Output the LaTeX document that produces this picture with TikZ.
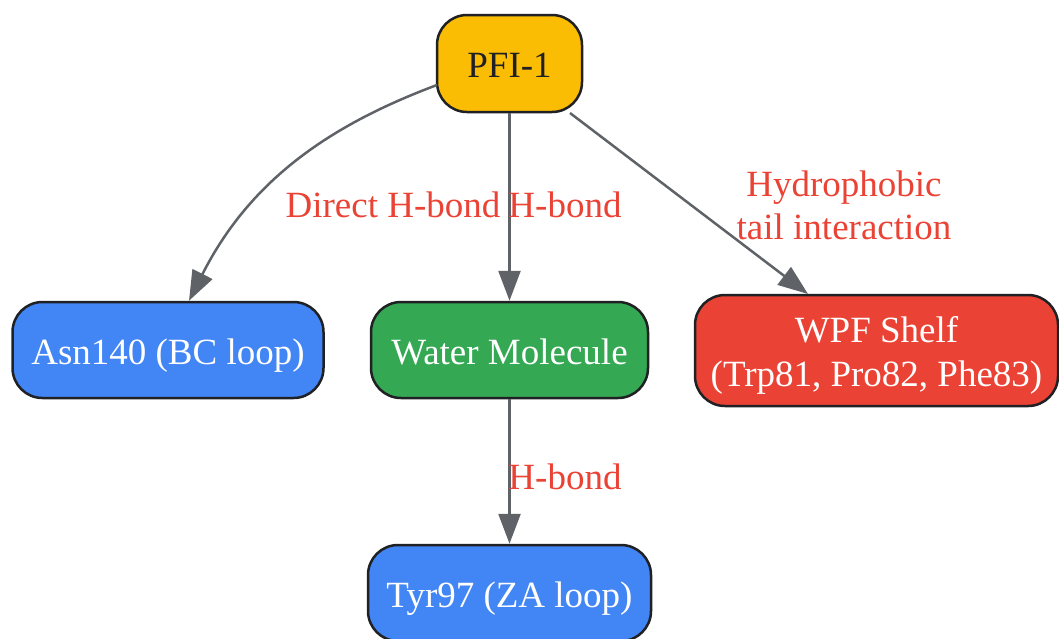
\documentclass[tikz,border=0pt]{standalone}
\usepackage{fontspec}
\setmainfont{Liberation Serif}
\usetikzlibrary{arrows.meta}
\definecolor{gyellow}{HTML}{FBBC04}
\definecolor{gblue}{HTML}{4285F4}
\definecolor{ggreen}{HTML}{34A853}
\definecolor{gred}{HTML}{EA4335}
\definecolor{gdark}{HTML}{202124}
\definecolor{ggray}{HTML}{5F6368}
\begin{document}
\begin{tikzpicture}[x=1pt,y=-1pt,
  box/.style={draw=gdark,line width=2.5pt,rounded corners=30pt,inner sep=0pt,align=center,
    font=\fontsize{37}{44}\selectfont,text=white},
  oneline/.style={text height=30pt,text depth=2pt},
  conn/.style={draw=ggray,line width=2.5pt,-{Triangle[length=30pt,width=22pt]}},
  lbl/.style={text=gred,font=\fontsize{37}{43}\selectfont,align=center,inner sep=0pt}]
\useasboundingbox (0,0) rectangle (1059,638);
\node[box,oneline,fill=gyellow,text=gdark,minimum width=145pt,minimum height=97pt] (pfi) at (509.5,63.5) {PFI-1};
\node[box,oneline,fill=gblue,minimum width=311pt,minimum height=96pt] (asn) at (168,350) {Asn140 (BC loop)};
\node[box,oneline,fill=ggreen,minimum width=277pt,minimum height=96pt] (water) at (509.5,350) {Water Molecule};
\node[box,fill=gred,minimum width=363pt,minimum height=111pt] (wpf) at (876.5,350.5) {\rule{0pt}{36pt}WPF Shelf\\(Trp81, Pro82, Phe83)\rule[-9pt]{0pt}{9pt}};
\node[box,oneline,fill=gblue,minimum width=283pt,minimum height=96pt] (tyr) at (509.5,593) {Tyr97 (ZA loop)};
\coordinate (s1) at (437,85);
\coordinate (s3) at (570,113);
\draw[conn] (s1) .. controls (330,125) and (250,180) .. (asn.north -| 189,0);
\draw[conn] (pfi.south) -- (water.north);
\draw[conn] (s3) -- (808,294) coordinate (e3);
\draw[conn] (water.south) -- (tyr.north);
\node[lbl] (l1) at (393,205) {Direct H-bond};
\node[lbl] (l2) at (565,205) {H-bond};
\node[lbl] (l3) at (844,205) {Hydrophobic\\tail interaction};
\node[lbl] (l4) at (565,477) {H-bond};
\end{tikzpicture}
\end{document}
